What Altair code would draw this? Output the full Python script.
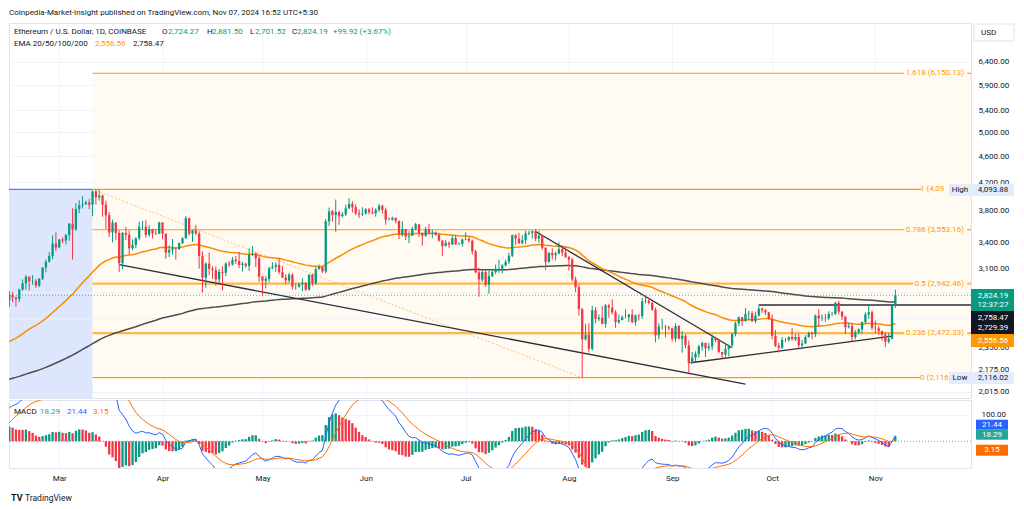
import altair as alt
import pandas as pd

# ---------------- data ----------------
START_DATE = "2024-02-15"
FIRST_OPEN = 2775.0

close_feb = [2825, 2803, 2786, 2881, 2945, 3015, 2967, 2970, 2922, 2993, 3112, 3178, 3242, 3385, 3340]
high_feb = [2865, 2860, 2811, 2890, 2985, 3030, 3015, 3030, 2990, 3000, 3115, 3200, 3285, 3485, 3520]
low_feb = [2710, 2755, 2715, 2760, 2870, 2880, 2870, 2930, 2900, 2905, 2980, 3060, 3165, 3205, 3300]

close_mar = [3433, 3421, 3488, 3628, 3557, 3820, 3870, 3885, 3910, 3880, 4064, 3980, 4005, 3880, 3740, 3520,
             3645, 3515, 3160, 3515, 3490, 3330, 3370, 3450, 3590, 3590, 3490, 3560, 3510, 3505, 3645]
high_mar = [3440, 3460, 3500, 3640, 3830, 3900, 3940, 3995, 3935, 3960, 4080, 4093.88, 4085, 4020, 3935, 3780,
            3680, 3645, 3545, 3525, 3590, 3545, 3435, 3460, 3655, 3665, 3675, 3610, 3565, 3565, 3655]
low_mar = [3330, 3390, 3375, 3420, 3200, 3540, 3765, 3830, 3880, 3820, 3725, 3880, 3935, 3720, 3560, 3465,
           3400, 3430, 3065, 3095, 3425, 3255, 3310, 3330, 3425, 3550, 3455, 3470, 3445, 3485, 3500]

close_apr = [3505, 3280, 3310, 3330, 3320, 3390, 3450, 3700, 3505, 3545, 3505, 3240, 3005, 3155, 3100,
             3085, 2985, 3065, 3055, 3155, 3145, 3200, 3185, 3140, 3155, 3130, 3255, 3265, 3215, 3015]
high_apr = [3650, 3505, 3365, 3440, 3335, 3400, 3460, 3730, 3710, 3555, 3615, 3535, 3295, 3170, 3280,
            3125, 3125, 3095, 3125, 3170, 3185, 3230, 3240, 3290, 3175, 3165, 3330, 3355, 3285, 3250]
low_apr = [3435, 3210, 3230, 3255, 3200, 3310, 3380, 3440, 3480, 3405, 3485, 3100, 2850, 2900, 3030,
           2990, 2920, 2950, 2870, 3020, 3120, 3135, 3150, 3105, 3070, 3110, 3075, 3240, 3120, 2960]

close_may = [2970, 2990, 3105, 3120, 3140, 3065, 3005, 2975, 3035, 2910, 2910, 2935, 2950, 2880, 3035, 2945,
             3095, 3120, 3070, 3660, 3790, 3740, 3780, 3730, 3750, 3830, 3890, 3845, 3765, 3750, 3760]
high_may = [3020, 3020, 3120, 3170, 3170, 3220, 3130, 3040, 3055, 3050, 2945, 2955, 2995, 2955, 3040, 3045,
            3120, 3145, 3125, 3690, 3840, 3810, 3950, 3800, 3780, 3880, 3970, 3925, 3885, 3820, 3845]
low_may = [2815, 2895, 2955, 3095, 3065, 3040, 3000, 2935, 2950, 2880, 2880, 2900, 2865, 2865, 2870, 2920,
           2930, 3090, 3055, 3050, 3600, 3655, 3530, 3615, 3710, 3730, 3820, 3775, 3740, 3700, 3725]

close_jun = [3815, 3780, 3765, 3810, 3865, 3810, 3680, 3680, 3705, 3665, 3500, 3560, 3470, 3480, 3565,
             3620, 3510, 3480, 3560, 3515, 3520, 3490, 3420, 3355, 3395, 3375, 3450, 3375, 3380, 3435]
high_jun = [3835, 3835, 3845, 3830, 3890, 3880, 3840, 3715, 3720, 3710, 3670, 3660, 3560, 3535, 3590,
            3640, 3625, 3520, 3590, 3625, 3550, 3530, 3515, 3430, 3430, 3410, 3480, 3490, 3400, 3445]
low_jun = [3750, 3750, 3750, 3720, 3780, 3760, 3615, 3670, 3670, 3635, 3440, 3470, 3430, 3390, 3475,
           3545, 3465, 3360, 3465, 3495, 3450, 3480, 3410, 3240, 3355, 3335, 3370, 3370, 3370, 3350]

close_jul = [3440, 3420, 3295, 3060, 2985, 3065, 2930, 3020, 3065, 3100, 3100, 3135, 3175, 3245, 3485, 3445,
             3390, 3425, 3505, 3515, 3535, 3445, 3480, 3335, 3175, 3275, 3250, 3270, 3320, 3280, 3230]
high_jul = [3520, 3465, 3430, 3310, 3110, 3080, 3075, 3080, 3095, 3145, 3200, 3150, 3200, 3280, 3495, 3500,
            3515, 3485, 3540, 3540, 3545, 3560, 3540, 3490, 3340, 3290, 3330, 3290, 3400, 3365, 3350]
low_jul = [3425, 3395, 3260, 3050, 2810, 2960, 2910, 2840, 3010, 3040, 3055, 3050, 3125, 3150, 3230, 3370,
           3380, 3375, 3380, 3485, 3445, 3415, 3395, 3310, 3090, 3165, 3200, 3190, 3260, 3240, 3220]

close_aug = [3200, 2985, 2905, 2690, 2420, 2460, 2340, 2680, 2600, 2610, 2555, 2725, 2705, 2660, 2570, 2590,
             2615, 2615, 2640, 2570, 2630, 2625, 2765, 2770, 2750, 2685, 2455, 2530, 2530, 2525, 2515]
high_aug = [3240, 3220, 3015, 2935, 2700, 2555, 2560, 2720, 2710, 2640, 2720, 2740, 2740, 2785, 2680, 2640,
            2630, 2690, 2645, 2690, 2640, 2645, 2800, 2820, 2795, 2765, 2705, 2560, 2600, 2545, 2540]
low_aug = [3080, 2965, 2855, 2630, 2116.02, 2410, 2310, 2325, 2560, 2580, 2550, 2520, 2610, 2640, 2520, 2555,
           2585, 2605, 2570, 2560, 2540, 2585, 2600, 2745, 2735, 2675, 2395, 2420, 2505, 2435, 2495]

close_sep = [2425, 2535, 2425, 2450, 2370, 2225, 2270, 2300, 2360, 2390, 2345, 2360, 2435, 2415, 2315,
             2295, 2340, 2370, 2465, 2560, 2615, 2580, 2645, 2650, 2580, 2630, 2695, 2680, 2660, 2600]
high_sep = [2520, 2560, 2545, 2490, 2465, 2410, 2315, 2320, 2375, 2400, 2390, 2390, 2460, 2440, 2425,
            2315, 2390, 2375, 2475, 2575, 2620, 2615, 2700, 2675, 2670, 2665, 2725, 2705, 2690, 2665]
low_sep = [2400, 2400, 2420, 2310, 2345, 2150, 2225, 2240, 2270, 2325, 2275, 2325, 2330, 2395, 2305,
           2260, 2275, 2280, 2360, 2445, 2535, 2535, 2575, 2590, 2570, 2560, 2620, 2655, 2635, 2590]

close_oct = [2450, 2365, 2350, 2415, 2415, 2440, 2420, 2440, 2370, 2385, 2440, 2475, 2465, 2630, 2605, 2610,
             2605, 2645, 2645, 2750, 2665, 2620, 2525, 2535, 2440, 2480, 2505, 2570, 2640, 2660, 2520]
high_oct = [2640, 2500, 2390, 2440, 2430, 2445, 2520, 2465, 2470, 2415, 2455, 2485, 2485, 2640, 2690, 2640,
            2645, 2670, 2665, 2760, 2770, 2675, 2625, 2565, 2565, 2500, 2515, 2575, 2660, 2720, 2675]
low_oct = [2420, 2355, 2310, 2340, 2395, 2400, 2410, 2405, 2350, 2335, 2380, 2435, 2420, 2440, 2530, 2580,
           2575, 2590, 2625, 2635, 2640, 2590, 2465, 2515, 2405, 2420, 2460, 2465, 2555, 2600, 2500]

close_nov = [2515, 2490, 2460, 2400, 2425, 2724.27, 2824.19]
high_nov = [2585, 2535, 2495, 2480, 2475, 2725, 2881.50]
low_nov = [2470, 2460, 2410, 2355, 2385, 2420, 2701.52]

# indicator values at the left edge of the chart
EMA50_START = 2400.0
EMA200_START = 2104.0
EMA12_START = 2575.0
EMA26_START = 2450.0
SIGNAL_START = 70.0

# fibonacci levels and drawn objects
fib_ratio = ["0", "0.236", "0.5", "0.786", "1", "1.618"]
fib_price = [2116.02, 2472.33, 2942.46, 3553.16, 4093.88, 6150.13]
fib_label = ["0 (2,116", "0.236 (2,472.33)", "0.5 (2,942.46)", "0.786 (3,553.16)", "1 (4,09", "1.618 (6,150.13)"]

PRICE_TICKS = [2015, 2175, 2350, 3100, 3400, 3800, 4200, 4600, 5000, 5400, 5900, 6400]
HIDDEN_GRID = [2600, 2850]   # grid lines whose labels are covered by the price tags

# ---------------- assemble ----------------
closes = close_feb + close_mar + close_apr + close_may + close_jun + close_jul + close_aug + close_sep + close_oct + close_nov
highs = high_feb + high_mar + high_apr + high_may + high_jun + high_jul + high_aug + high_sep + high_oct + high_nov
lows = low_feb + low_mar + low_apr + low_may + low_jun + low_jul + low_aug + low_sep + low_oct + low_nov
n = len(closes)
dates = pd.date_range(START_DATE, periods=n, freq="D")
opens = [FIRST_OPEN] + closes[:-1]
highs = [max(h, o, c) for h, o, c in zip(highs, opens, closes)]
lows = [min(l, o, c) for l, o, c in zip(lows, opens, closes)]


def ema(vals, period, first):
    k = 2.0 / (period + 1)
    out = [first]
    for v in vals[1:]:
        out.append(out[-1] + k * (v - out[-1]))
    return out


ema50 = ema(closes, 50, EMA50_START)
ema200 = ema(closes, 200, EMA200_START)
e12 = ema(closes, 12, EMA12_START)
e26 = ema(closes, 26, EMA26_START)
macd = [a - b for a, b in zip(e12, e26)]
signal = ema(macd, 9, SIGNAL_START)
hist = [m - s for m, s in zip(macd, signal)]
hcat = []
for i, h in enumerate(hist):
    prev = hist[i - 1] if i > 0 else h - 1
    if h >= 0:
        hcat.append("pos_up" if h > prev else "pos_dn")
    else:
        hcat.append("neg_dn" if h < prev else "neg_up")

df = pd.DataFrame({
    "date": dates.strftime("%Y-%m-%d"),
    "open": opens, "high": highs, "low": lows, "close": closes,
    "dir": ["up" if c >= o else "down" for o, c in zip(opens, closes)],
    "ema50": ema50, "ema200": ema200,
    "macd": macd, "signal": signal, "hist": hist, "hcat": hcat,
})

# ---------------- style ----------------
TXT = "#131722"
GRID = "#f0f3fa"
UP = "#089981"
DN = "#f23645"
W, HP, HM = 962, 375, 68
D_START = "2024-02-14T22:00:00Z"
D_END = "2024-11-29T17:00:00Z"
X_DOMAIN = [alt.DateTime(year=2024, month=2, date=14, hours=22, utc=True),
            alt.DateTime(year=2024, month=11, date=29, hours=17, utc=True)]
MONTHS = [alt.DateTime(year=2024, month=m, date=1, utc=True) for m in range(3, 12)]
FS = 8

xscale = alt.Scale(type="utc", domain=X_DOMAIN, padding=0, nice=False)
xaxis_p = alt.Axis(values=MONTHS, labels=False, ticks=False, domain=False, grid=True,
                   gridColor=GRID, title=None)
xaxis_m = alt.Axis(values=MONTHS, labelExpr="utcFormat(datum.value, '%b')", labelFontSize=FS,
                   labelColor=TXT, ticks=False, domain=False, grid=True, gridColor=GRID, title=None,
                   labelPadding=6, labelFlush=False)
yscale = alt.Scale(type="log", domain=[1970, 7335], nice=False, padding=0)
yaxis = alt.Axis(orient="right", values=PRICE_TICKS, format=",.2f", labelFontSize=FS, labelColor=TXT,
                 ticks=False, domain=False, grid=True, gridColor=GRID, title=None, labelPadding=7,
                 labelAlign="left")
mscale = alt.Scale(domain=[-100.4, 155], nice=False, zero=False, padding=0)
maxis = alt.Axis(orient="right", values=[100], format=",.2f", labelFontSize=FS, labelColor=TXT,
                 ticks=False, domain=False, grid=True, gridColor=GRID, title=None, labelPadding=10,
                 labelAlign="left")


def XP(f):
    return alt.X(f, type="temporal", scale=xscale, axis=xaxis_p)


def YP(f):
    return alt.Y(f, type="quantitative", scale=yscale, axis=yaxis)


def YPd(v):
    return alt.YDatum(v, type="quantitative", scale=yscale, axis=yaxis)


def XM(f):
    return alt.X(f, type="temporal", scale=xscale, axis=xaxis_m)


def YM(f):
    return alt.Y(f, type="quantitative", scale=mscale, axis=maxis)


ONE = pd.DataFrame({"a": [0]})


def txt(s, x, y, color=TXT, size=FS, align="left", weight="normal"):
    return alt.Chart(ONE).mark_text(text=s, align=align, baseline="middle", fontSize=size,
                                    color=color, fontWeight=weight).encode(x=alt.value(x), y=alt.value(y))


def box(x1, x2, y1, y2, fill, stroke=None):
    kw = {"color": fill}
    if stroke:
        kw.update(stroke=stroke, strokeWidth=1)
    return alt.Chart(ONE).mark_rect(**kw).encode(x=alt.value(x1), x2=alt.value(x2),
                                                 y=alt.value(y1), y2=alt.value(y2))


base = alt.Chart(df)
dircolor = alt.Color("dir:N", scale=alt.Scale(domain=["up", "down"], range=[UP, DN]), legend=None)

# background zones
zones = pd.DataFrame({
    "x1": [D_START, "2024-03-11"], "x2": ["2024-03-11", D_END],
    "p1": [1900, fib_price[0]], "p2": [fib_price[4], fib_price[5]],
    "col": ["#dde6fd", "#fffaf2"],
})
zone_layer = alt.Chart(zones).mark_rect(clip=True).encode(
    x=XP("x1"), x2="x2", y=YP("p1"), y2="p2", color=alt.Color("col:N", scale=None))
blue_top = alt.Chart(pd.DataFrame({"x1": [D_START], "x2": ["2024-03-11"], "p": [fib_price[4]]})).mark_rule(
    color="#5b7cf7", strokeWidth=1.2, clip=True).encode(x=XP("x1"), x2="x2", y=YP("p"))
hidden_grid = alt.Chart(pd.DataFrame({"p": HIDDEN_GRID})).mark_rule(color=GRID, strokeWidth=1).encode(
    y=YP("p"))

# fib level lines (broken where their labels sit)
fib_end = {"0": "2024-11-14T12:00:00Z", "0.236": "2024-11-09T16:00:00Z", "0.5": "2024-11-12T10:00:00Z",
           "0.786": "2024-11-09T16:00:00Z", "1": "2024-11-14T18:00:00Z", "1.618": "2024-11-09T16:00:00Z"}
seg_rows = []
for r, p in zip(fib_ratio, fib_price):
    light = r in ("0.5", "0.236")
    col = "#ffb74d" if light else "#ff9800"
    sw = 2.2 if light else 1.1
    seg_rows.append({"x1": "2024-03-11", "x2": fib_end[r], "p": p, "col": col, "sw": sw})
    if r not in ("0", "1"):
        seg_rows.append({"x1": "2024-11-28T14:00:00Z", "x2": D_END, "p": p, "col": col, "sw": sw})
fib_lines = alt.Chart(pd.DataFrame(seg_rows)).mark_rule().encode(
    x=XP("x1"), x2="x2", y=YP("p"), color=alt.Color("col:N", scale=None),
    strokeWidth=alt.StrokeWidth("sw:Q", scale=None))

diag = alt.Chart(pd.DataFrame({"d": ["2024-03-11", "2024-08-05"], "p": [fib_price[4], fib_price[0]]})).mark_line(
    color="#ffb74d", strokeDash=[2, 2], strokeWidth=1, opacity=0.8).encode(x=XP("d"), y=YP("p"))

ema200_line = base.mark_line(color="#4d4d4d", strokeWidth=1.5, clip=True).encode(x=XP("date"), y=YP("ema200"))
ema50_line = base.mark_line(color="#fb8c00", strokeWidth=1.5, clip=True).encode(x=XP("date"), y=YP("ema50"))

trend = pd.DataFrame({
    "id": ["a", "a", "b", "b", "c", "c", "h", "h"],
    "d": ["2024-03-19T00:00:00Z", "2024-09-23T00:00:00Z", "2024-07-22T00:00:00Z", "2024-09-19T00:00:00Z",
          "2024-09-06T12:00:00Z", "2024-11-06T00:00:00Z", "2024-09-27T00:00:00Z", D_END],
    "p": [3144, 2069, 3532, 2349, 2229, 2447, 2729.39, 2729.39],
})
trend_lines = alt.Chart(trend).mark_line(color="#2a2e39", strokeWidth=1.3).encode(
    x=XP("d"), y=YP("p"), detail="id:N")

wicks = base.mark_rule(strokeWidth=1, clip=True).encode(x=XP("date"), y=YP("low"), y2="high", color=dircolor)
bodies = base.mark_bar(width=2.3, clip=True).encode(x=XP("date"), y=YP("open"), y2="close", color=dircolor)

last_line = alt.Chart(ONE).mark_rule(color=UP, strokeDash=[1, 2], strokeWidth=1, opacity=0.7).encode(
    y=YPd(2824.19))

fib_txt = []
for r, p, lab in zip(fib_ratio, fib_price, fib_label):
    if r in ("0", "1"):
        # the rest of these labels is hidden behind the High / Low tags
        fib_txt.append(alt.Chart(ONE).mark_text(text=lab, align="left", baseline="middle",
                                                fontSize=FS, color="#ff9800").encode(
            x=alt.value(911), y=YPd(p)))
    else:
        fib_txt.append(alt.Chart(ONE).mark_text(text=lab, align="right", baseline="middle",
                                                fontSize=FS, color="#ff9800").encode(
            x=alt.value(955), y=YPd(p)))

# right-hand price labels
ax = []
ax.append(box(965, 1005, 1, 18, "#ffffff", "#e0e3eb"))
ax.append(txt("USD", 972, 9.5))
ax.append(box(940, 962, 161, 173, "#e3ecfb"))
ax.append(txt("High", 951, 167, align="center"))
ax.append(box(962, 1005, 161, 173, "#e3ecfb"))
ax.append(txt("4,093.88", 984, 167, align="center"))
ax.append(box(940, 962, 349, 361, "#e3ecfb"))
ax.append(txt("Low", 951, 355, align="center"))
ax.append(box(962, 1005, 349, 361, "#e3ecfb"))
ax.append(txt("2,116.02", 984, 355, align="center"))
ax.append(box(962, 1005, 266, 288, UP))
ax.append(txt("2,824.19", 984, 272.5, color="#ffffff", align="center"))
ax.append(txt("12:37:27", 984, 282, color="#ffffff", align="center"))
ax.append(box(962, 1005, 288, 311, "#131722"))
ax.append(txt("2,758.47", 984, 294.5, color="#ffffff", align="center"))
ax.append(txt("2,729.39", 984, 305, color="#ffffff", align="center"))
ax.append(box(962, 1005, 311, 324, "#ff9800"))
ax.append(txt("2,556.56", 984, 317.5, color="#ffffff", align="center"))

# legends
lg = []
lg.append(txt("Coinpedia-Market-Insight published on TradingView.com, Nov 07, 2024 16:52 UTC+5:30", 0, -10))
lg.append(txt("Ethereum / U.S. Dollar, 1D, COINBASE", 5, 9))
for s, x, c in [("O", 153, TXT), ("2,724.27", 159, UP), ("H", 198, TXT), ("2,881.50", 203, UP),
                ("L", 241, TXT), ("2,701.52", 246, UP), ("C", 283, TXT), ("2,824.19", 288, UP),
                ("+99.92 (+3.67%)", 324, UP)]:
    lg.append(txt(s, x, 9, color=c))
lg.append(txt("EMA 20/50/100/200", 5, 21))
lg.append(txt("2,556.56", 86, 21, color="#ff9800"))
lg.append(txt("2,758.47", 124, 21))

price = alt.layer(zone_layer, hidden_grid, blue_top, fib_lines, diag, ema200_line, ema50_line, trend_lines,
                  wicks, bodies, last_line, *fib_txt, *ax, *lg).properties(width=W, height=HP)

# ---------------- MACD pane ----------------
mbase = alt.Chart(df)
zero = alt.Chart(ONE).mark_rule(color="#9598a1", strokeDash=[1, 2], strokeWidth=1).encode(
    y=alt.YDatum(0, type="quantitative", scale=mscale, axis=maxis))
hbars = mbase.mark_bar(width=2.3, clip=True).encode(
    x=XM("date"), y=YM("hist"), y2=alt.datum(0),
    color=alt.Color("hcat:N", scale=alt.Scale(domain=["pos_up", "pos_dn", "neg_up", "neg_dn"],
                                              range=["#26a69a", "#b2dfdb", "#ffcdd2", "#ff5252"]),
                    legend=None))
mline = mbase.mark_line(color="#2962ff", strokeWidth=1, clip=True).encode(x=XM("date"), y=YM("macd"))
sline = mbase.mark_line(color="#ff6d00", strokeWidth=1, clip=True).encode(x=XM("date"), y=YM("signal"))

mt = []
mt.append(txt("MACD", 5, 12))
mt.append(txt("18.29", 31, 12, color="#26a69a"))
mt.append(txt("21.44", 58, 12, color="#2962ff"))
mt.append(txt("3.15", 84, 12, color="#ff6d00"))
mt.append(box(967, 999, 19.7, 29.7, "#2962ff"))
mt.append(txt("21.44", 983, 24.7, color="#ffffff", align="center"))
mt.append(box(967, 999, 29.7, 39.7, "#26a69a"))
mt.append(txt("18.29", 983, 34.7, color="#ffffff", align="center"))
mt.append(box(967, 999, 44.7, 55.7, "#ff6d00"))
mt.append(txt("3.15", 983, 50.2, color="#ffffff", align="center"))
mt.append(txt("TV", 2, 98, size=9, weight="bold"))
mt.append(txt("TradingView", 16, 98, size=8.5))

macd_pane = alt.layer(zero, hbars, mline, sline, *mt).properties(width=W, height=HM)

chart = alt.vconcat(price, macd_pane, spacing=0).properties(
    padding=0, background="#ffffff"
).configure(font="Roboto").configure_view(stroke="#e0e3eb", strokeWidth=1)

chart.save("out.html", embed_options={"renderer": "svg", "actions": False})
